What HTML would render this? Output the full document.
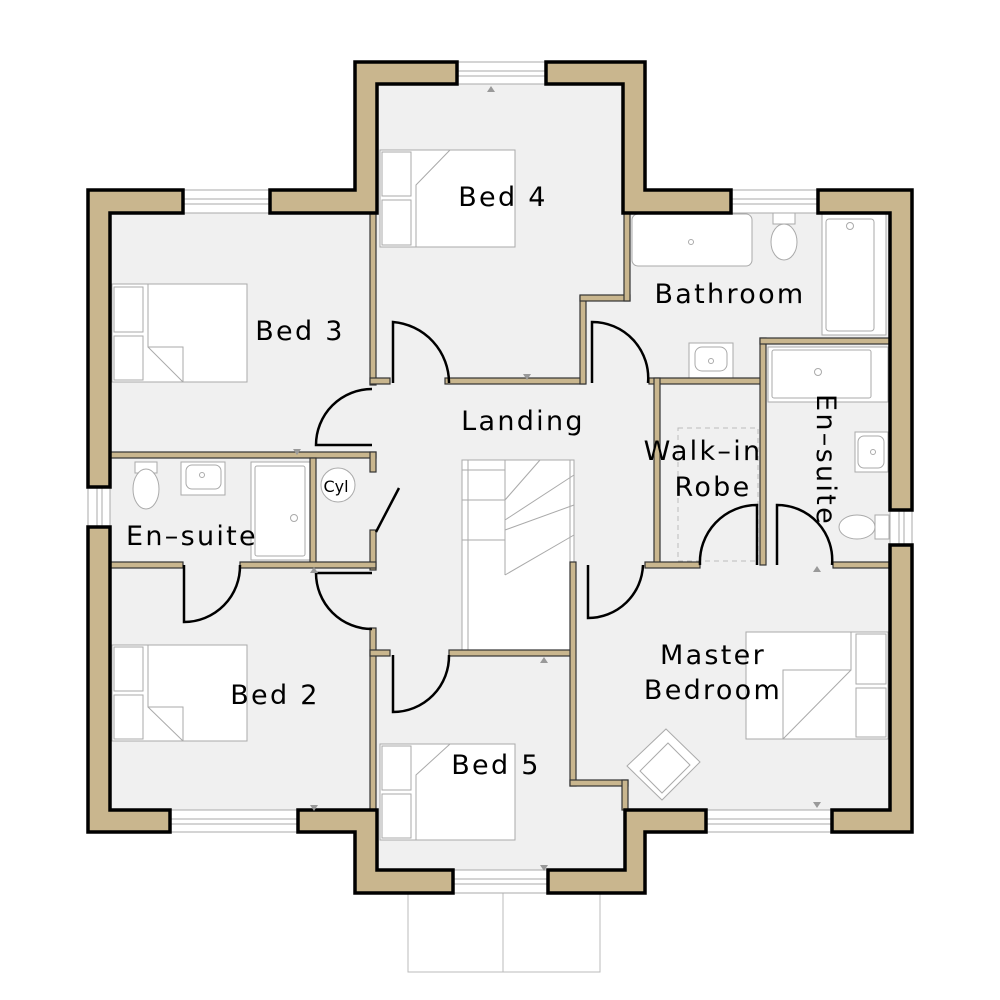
<!DOCTYPE html>
<html><head><style>
html,body{margin:0;padding:0;background:#fff;}
svg{display:block;}
text{font-family:"DejaVu Sans","Liberation Sans",sans-serif;font-size:27px;fill:#000;letter-spacing:2.3px;}
</style></head><body>
<svg width="1000" height="1000" viewBox="0 0 1000 1000" xmlns="http://www.w3.org/2000/svg">
<polygon points="88,190 355,190 355,62 645,62 645,190 912,190 912,832 645,832 645,893 355,893 355,832 88,832" fill="#f0f0f0"/>
<g fill="none" stroke="#bbb" stroke-width="1">
<rect x="408" y="893" width="192" height="79"/>
<line x1="503" y1="893" x2="503" y2="972"/>
</g>
<g stroke="#aaa" stroke-width="1" fill="#fff">
<rect x="462" y="460" width="112" height="195"/>
<line x1="462" y1="540" x2="505" y2="540" fill="none"/>
<line x1="505" y1="460" x2="505" y2="575"/>
<line x1="505" y1="500" x2="540" y2="460"/>
<line x1="505" y1="520" x2="574" y2="475"/>
<line x1="505" y1="530" x2="574" y2="505"/>
<line x1="505" y1="575" x2="574" y2="535"/>
<line x1="462" y1="470" x2="505" y2="470"/>
<line x1="462" y1="500" x2="505" y2="500"/>
<line x1="468" y1="460" x2="468" y2="655"/>
<line x1="570" y1="460" x2="570" y2="655"/>
</g>
<g fill="#fff" stroke="#aaa" stroke-width="1">
<rect x="183" y="190" width="87" height="23"/><line x1="183" y1="199" x2="270" y2="199"/><line x1="183" y1="204" x2="270" y2="204"/>
<rect x="457" y="62" width="89" height="22"/><line x1="457" y1="71" x2="546" y2="71"/><line x1="457" y1="76" x2="546" y2="76"/>
<rect x="731" y="190" width="87" height="23"/><line x1="731" y1="199" x2="818" y2="199"/><line x1="731" y1="204" x2="818" y2="204"/>
<rect x="890" y="510" width="22" height="35"/><line x1="899" y1="510" x2="899" y2="545"/><line x1="904" y1="510" x2="904" y2="545"/>
<rect x="706" y="810" width="126" height="22"/><line x1="706" y1="819" x2="832" y2="819"/><line x1="706" y1="824" x2="832" y2="824"/>
<rect x="453" y="870" width="95" height="23"/><line x1="453" y1="879" x2="548" y2="879"/><line x1="453" y1="884" x2="548" y2="884"/>
<rect x="170" y="810" width="128" height="22"/><line x1="170" y1="819" x2="298" y2="819"/><line x1="170" y1="824" x2="298" y2="824"/>
<rect x="88" y="487" width="22" height="40"/><line x1="97" y1="487" x2="97" y2="527"/><line x1="102" y1="487" x2="102" y2="527"/>
</g>
<g fill="#fff" stroke="#aaa" stroke-width="1">
<rect x="380" y="150" width="135" height="97"/><rect x="382" y="152" width="29" height="44"/><rect x="382" y="200" width="29" height="45"/>
<polyline points="416,247 416,185 450,150" fill="none"/>
<rect x="112" y="284" width="135" height="98"/><rect x="114" y="287" width="29" height="45"/><rect x="114" y="336" width="29" height="44"/>
<polyline points="148,284 148,347 183,347 183,382" fill="none"/><line x1="148" y1="347" x2="183" y2="382"/>
<rect x="112" y="645" width="135" height="96"/><rect x="114" y="647" width="29" height="44"/><rect x="114" y="695" width="29" height="44"/>
<polyline points="148,645 148,707 183,707 183,741" fill="none"/><line x1="148" y1="707" x2="183" y2="741"/>
<rect x="380" y="744" width="135" height="96"/><rect x="382" y="746" width="29" height="44"/><rect x="382" y="794" width="29" height="44"/>
<polyline points="416,840 416,775 450,744" fill="none"/>
<rect x="746" y="632" width="142" height="107"/><rect x="856" y="634" width="30" height="50"/><rect x="856" y="688" width="30" height="49"/>
<polyline points="851,632 851,670 783,670 783,739" fill="none"/><line x1="783" y1="739" x2="851" y2="670"/>
<polygon points="666,729 700,762 662,800 627,766"/><polygon points="668,743 690,765 662,793 640,771"/>
<rect x="632" y="214" width="120" height="52" rx="6"/><circle cx="691" cy="242" r="2.5"/>
<rect x="773" y="213" width="22" height="11"/><ellipse cx="784" cy="242" rx="13" ry="18"/>
<rect x="822" y="214" width="64" height="121"/><rect x="826" y="219" width="48" height="112" rx="3"/><circle cx="850" cy="226" r="3.5"/>
<rect x="689" y="343" width="44" height="35"/><rect x="695" y="347" width="32" height="24" rx="7"/><circle cx="711" cy="361" r="2.5"/>
<rect x="768" y="347" width="120" height="55"/><rect x="772" y="350" width="99" height="48" rx="2"/><circle cx="818" cy="372" r="3.5"/>
<rect x="855" y="432" width="33" height="40"/><rect x="858" y="436" width="26" height="32" rx="6"/><circle cx="873" cy="452" r="2.5"/>
<rect x="875" y="515" width="14" height="24"/><ellipse cx="857" cy="527" rx="18" ry="12"/>
<rect x="135" y="462" width="22" height="11"/><ellipse cx="146" cy="489" rx="13" ry="20"/>
<rect x="181" y="462" width="44" height="33"/><rect x="186" y="465" width="35" height="24" rx="6"/><circle cx="202" cy="475" r="2.5"/>
<rect x="251" y="462" width="59" height="98"/><rect x="255" y="466" width="50" height="90" rx="2"/><circle cx="294" cy="518" r="3.5"/>
<circle cx="338" cy="485" r="17"/>
</g>
<rect x="678" y="428" width="80" height="133" fill="none" stroke="#bbb" stroke-dasharray="5,4"/>
<g fill="#c9b68e" stroke="#333" stroke-width="1.2">
<rect x="370" y="213" width="6" height="172"/>
<rect x="370" y="378" width="20" height="6"/>
<rect x="445" y="378" width="140" height="6"/>
<rect x="580" y="296" width="6" height="88"/>
<rect x="580" y="295" width="50" height="6"/>
<rect x="624" y="213" width="6" height="88"/>
<rect x="649" y="378" width="115" height="6"/>
<rect x="654" y="378" width="6" height="187"/>
<rect x="760" y="338" width="6" height="227"/>
<rect x="760" y="338" width="130" height="6"/>
<rect x="110" y="452" width="266" height="6"/>
<rect x="370" y="452" width="6" height="20"/>
<rect x="370" y="530" width="6" height="40"/>
<rect x="310" y="458" width="6" height="107"/>
<rect x="110" y="562" width="73" height="6"/>
<rect x="240" y="562" width="136" height="6"/>
<rect x="370" y="628" width="6" height="182"/>
<rect x="370" y="650" width="20" height="6"/>
<rect x="449" y="650" width="124" height="6"/>
<rect x="570" y="562" width="6" height="224"/>
<rect x="570" y="780" width="58" height="6"/>
<rect x="622" y="780" width="6" height="30"/>
<rect x="645" y="562" width="55" height="6"/>
<rect x="833" y="562" width="57" height="6"/>
</g>
<g fill="#c9b68e" stroke="#000" stroke-width="3.5" stroke-linejoin="miter">
<polygon points="88,190 183,190 183,213 110,213 110,487 88,487"/>
<polygon points="270,190 355,190 355,62 457,62 457,84 377,84 377,213 270,213"/>
<polygon points="546,62 645,62 645,190 731,190 731,213 623,213 623,84 546,84"/>
<polygon points="818,190 912,190 912,510 890,510 890,213 818,213"/>
<polygon points="890,545 912,545 912,832 832,832 832,810 890,810"/>
<polygon points="706,810 706,832 645,832 645,893 548,893 548,870 625,870 625,810"/>
<polygon points="453,870 453,893 355,893 355,832 298,832 298,810 377,810 377,870"/>
<polygon points="170,810 170,832 88,832 88,527 110,527 110,810"/>
</g>
<g fill="none" stroke="#000" stroke-width="2.5">
<path d="M393,383 V322 A61,61 0 0 1 449,383"/>
<path d="M372,445 H316 A56,56 0 0 1 372,389"/>
<path d="M592,383 V322 A56,56 0 0 1 648,383"/>
<path d="M376,532 L399,488"/>
<path d="M184,565 V622 A56,56 0 0 0 240,565"/>
<path d="M372,573 H316 A56,56 0 0 0 372,629"/>
<path d="M393,655 V712 A56,56 0 0 0 449,655"/>
<path d="M588,565 V618 A55,55 0 0 0 643,565"/>
<path d="M757,565 V505 A57,57 0 0 0 700,565"/>
<path d="M777,565 V505 A55,55 0 0 1 832,565"/>
</g>
<g fill="#999">
<polygon points="487,92 491,86 495,92"/><polygon points="293,449 297,455 301,449"/><polygon points="523,374 527,380 531,374"/>
<polygon points="813,572 817,566 821,572"/><polygon points="310,573 314,567 318,573"/><polygon points="540,663 544,657 548,663"/>
<polygon points="310,805 314,811 318,805"/><polygon points="813,802 817,808 821,802"/><polygon points="540,865 544,871 548,865"/>
</g>
<text x="503" y="206" text-anchor="middle">Bed  4</text>
<text x="300" y="340" text-anchor="middle">Bed  3</text>
<text x="730" y="303" text-anchor="middle">Bathroom</text>
<text x="523" y="430" text-anchor="middle">Landing</text>
<text x="703" y="460" text-anchor="middle">Walk–in</text>
<text x="713" y="496" text-anchor="middle">Robe</text>
<text x="192" y="545" text-anchor="middle">En–suite</text>
<text x="336" y="492" text-anchor="middle" style="font-size:16px;letter-spacing:0">Cyl</text>
<text x="275" y="704" text-anchor="middle">Bed  2</text>
<text x="496" y="774" text-anchor="middle">Bed  5</text>
<text x="713" y="664" text-anchor="middle">Master</text>
<text x="713" y="699" text-anchor="middle">Bedroom</text>
<text transform="translate(817,460) rotate(90)" text-anchor="middle">En–suite</text>
</svg>
</body></html>
